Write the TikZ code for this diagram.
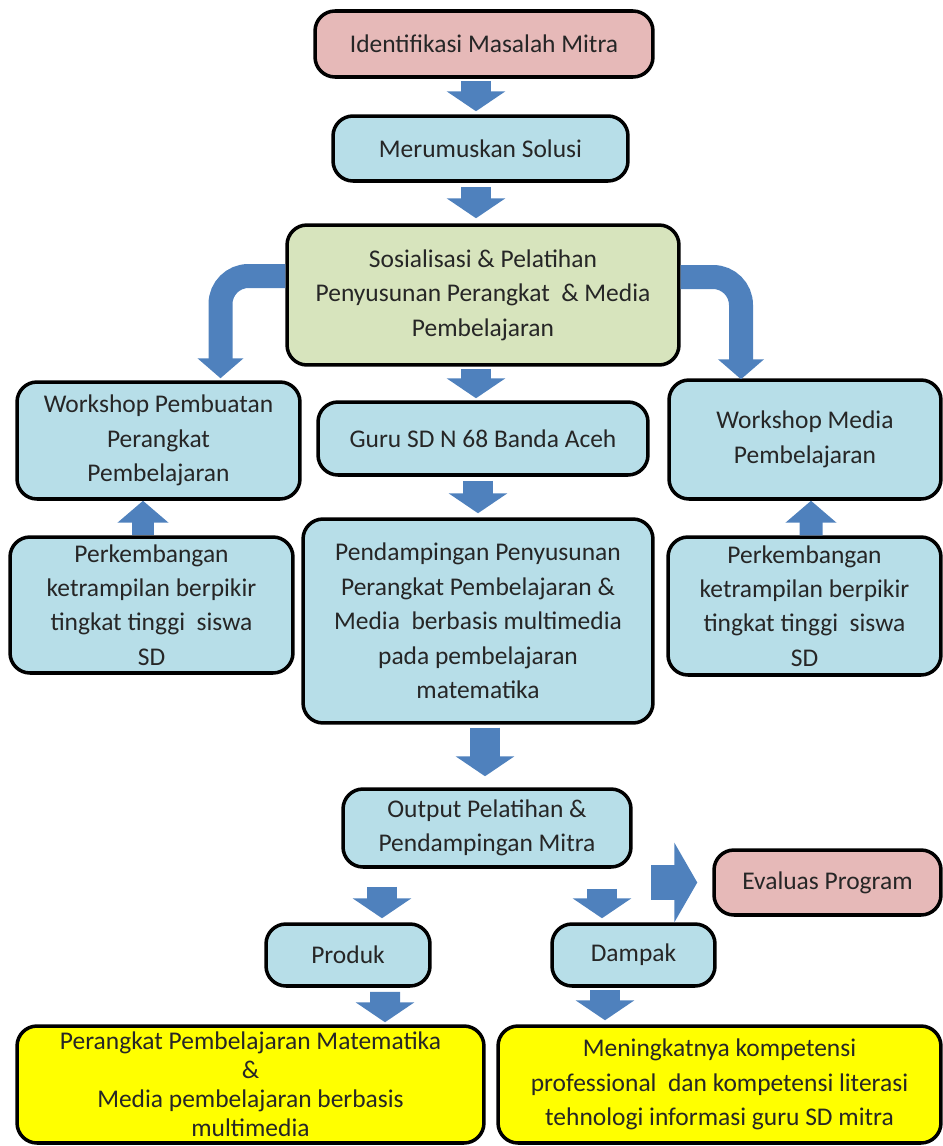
\documentclass[tikz,border=0pt]{standalone}
\usepackage{fontspec}
\setmainfont{Carlito}
\usetikzlibrary{arrows.meta,calc}
\definecolor{boxpink}{HTML}{E6B9B8}
\definecolor{boxblue}{HTML}{B7DEE8}
\definecolor{boxgreen}{HTML}{D7E4BD}
\definecolor{boxyellow}{HTML}{FFFF00}
\definecolor{arrowblue}{HTML}{4F81BD}
\begin{document}
\begin{tikzpicture}[x=0.02cm,y=-0.02cm,
    box/.style={draw=black,line width=2pt,rounded corners=0.4cm,align=center,inner sep=0pt,
        text=black!85,font=\fontsize{14.5}{19.6}\selectfont},
    blk/.style={draw=arrowblue,line width=0.6cm,-{Triangle[width=1.16cm,length=0.4cm]}},
    upblk/.style={draw=arrowblue,line width=0.46cm,-{Triangle[width=1cm,length=0.44cm]}},
    bigblk/.style={draw=arrowblue,line width=0.7cm,-{Triangle[width=1.58cm,length=0.46cm]}},
    curvearrow/.style={draw=arrowblue,line width=0.48cm,rounded corners=0.56cm,-{Triangle[width=0.9cm,length=0.4cm]}}]

    \useasboundingbox (0,0) rectangle (943,1146);

    \node[box,fill=boxpink,minimum width=6.76cm,minimum height=1.32cm] (idm) at (484,44) {Identifikasi Masalah Mitra};
    \node[box,fill=boxblue,minimum width=5.9cm,minimum height=1.3cm] (mer) at (480.5,148.5) {Merumuskan Solusi};
    \node[box,fill=boxgreen,minimum width=7.84cm,minimum height=2.8cm] (sos) at (483,295) {Sosialisasi \& Pelatihan\\Penyusunan Perangkat~ \& Media\\Pembelajaran};

    \node[box,fill=boxblue,minimum width=5.66cm,minimum height=2.34cm] (wsp) at (158.5,440.5) {Workshop Pembuatan\\Perangkat\\Pembelajaran};
    \node[box,fill=boxblue,minimum width=6.6cm,minimum height=1.46cm] (guru) at (483,438.5) {Guru SD N 68 Banda Aceh};
    \node[box,fill=boxblue,minimum width=5.44cm,minimum height=2.38cm] (wsm) at (805,439.5) {Workshop Media\\Pembelajaran};

    \node[box,fill=boxblue,minimum width=5.66cm,minimum height=2.72cm] (pk1) at (151.5,605) {Perkembangan\\ketrampilan berpikir\\tingkat tinggi~ siswa\\SD};
    \node[box,fill=boxblue,minimum width=7cm,minimum height=4.08cm] (pend) at (478,621) {Pendampingan Penyusunan\\Perangkat Pembelajaran \&\\Media~ berbasis multimedia\\pada pembelajaran\\matematika};
    \node[box,fill=boxblue,minimum width=5.46cm,minimum height=2.76cm] (pk2) at (804.5,606) {Perkembangan\\ketrampilan berpikir\\tingkat tinggi~ siswa\\SD};

    \node[box,fill=boxblue,minimum width=5.76cm,minimum height=1.56cm] (out) at (487,828) {Output Pelatihan \&\\Pendampingan Mitra};
    \node[box,fill=boxpink,minimum width=4.54cm,minimum height=1.3cm] (eva) at (827.5,882.5) {Evaluas Program};
    \node[box,fill=boxblue,minimum width=3.28cm,minimum height=1.24cm] (prod) at (348,955) {Produk};
    \node[box,fill=boxblue,minimum width=3.26cm,minimum height=1.24cm] (damp) at (633.5,955) {Dampak};

    \node[box,fill=boxyellow,minimum width=9.34cm,minimum height=2.34cm,font=\fontsize{14.5}{16.5}\selectfont] (hasil) at (250.5,1084.5) {Perangkat Pembelajaran Matematika\\\&\\Media pembelajaran berbasis\\multimedia};
    \node[box,fill=boxyellow,minimum width=8.86cm,minimum height=2.34cm] (dampak) at (719.5,1084.5) {Meningkatnya kompetensi\\professional~ dan kompetensi literasi\\tehnologi informasi guru SD mitra};

    \draw[blk] ($(idm.south)+(-8,2)$) -- ($(mer.north)+(-4.5,-3)$);
    \draw[blk] ($(mer.south)+(-4.5,4)$) -- ($(sos.north)+(-7,-5)$);
    \draw[blk] ($(sos.south)+(-7,2)$) -- ($(guru.north)+(-7,-2)$);
    \draw[blk] ($(guru.south)+(-5,4)$) -- ($(pend.north)+(0,-4)$);
    \draw[blk] ($(pend.south)+(7,3)$) -- ($(out.north)+(-2,-11)$);

    \draw[curvearrow] ($(sos.west)+(0,-19)$) -| ($(wsp.north)+(62,-2)$);
    \draw[curvearrow] ($(sos.east)+(0,-18)$) -| ($(wsm.north)+(-64,1)$);

    \draw[upblk] ($(pk1.north)+(-8.5,0)$) -- ($(wsp.south)+(-15.5,0)$);
    \draw[upblk] ($(pk2.north)+(6.5,0)$) -- ($(wsm.south)+(6,0)$);

    \draw[blk] ($(out.south)+(-105,18)$) -- ($(prod.north)+(34,-4)$);
    \draw[blk] ($(out.south)+(115,20)$) -- ($(damp.north)+(-31.5,-4)$);
    \draw[bigblk] ($(eva.west)+(-61,0)$) -- ($(eva.west)+(-15,0)$);

    \draw[blk] ($(prod.south)+(37,4)$) -- ($(hasil.north)+(134.5,-2)$);
    \draw[blk] ($(damp.south)+(-28.5,2)$) -- ($(dampak.north)+(-114.5,-4)$);

\end{tikzpicture}
\end{document}
